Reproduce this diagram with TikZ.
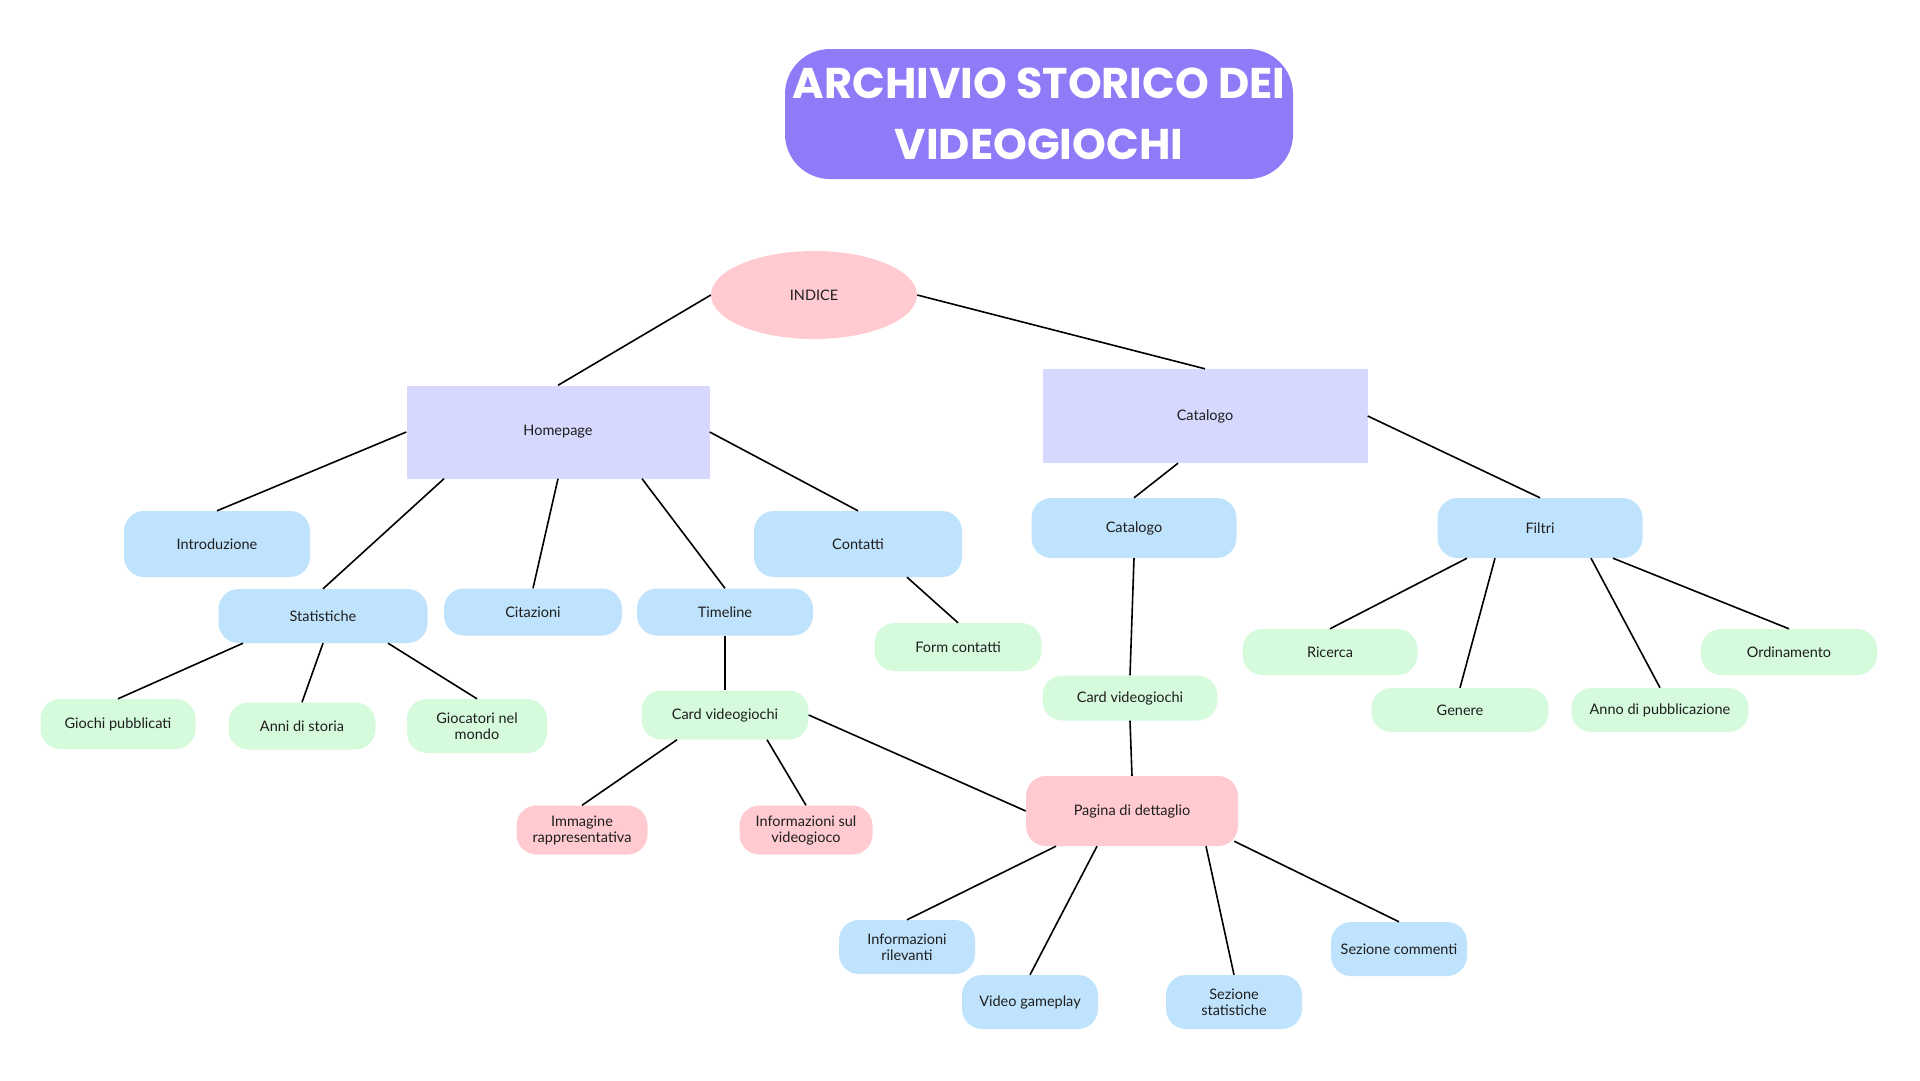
\documentclass[tikz,border=0pt]{standalone}
\usepackage{fontspec}
\setmainfont{Lato}
\newfontfamily\titlefont{Poppins}
\usetikzlibrary{positioning, shapes.geometric}

\definecolor{titlepurple}{HTML}{8E7BF8}
\definecolor{pinkbox}{HTML}{FFCBD1}
\definecolor{lavbox}{HTML}{D6D8FE}
\definecolor{bluebox}{HTML}{C0E3FD}
\definecolor{greenbox}{HTML}{D5FADC}
\definecolor{ink}{HTML}{1E1E1E}

\begin{document}
\begin{tikzpicture}[x=1pt, y=-1pt,
	every node/.style={font=\fontsize{14.5}{16}\selectfont, text=ink, align=center, inner sep=2pt},
	heading/.style={fill=titlepurple, rounded corners=45pt, text=white, minimum width=508, minimum height=130, font=\titlefont\bfseries\fontsize{43}{61}\selectfont},
	root/.style={ellipse, fill=pinkbox, minimum width=206, minimum height=88},
	page/.style={fill=lavbox},
	section/.style={fill=bluebox, rounded corners=20pt},
	item/.style={fill=greenbox, rounded corners=20pt},
	detail/.style={fill=pinkbox, rounded corners=20pt},
	link/.style={line width=1.6pt}
	]
	\fill[white] (0,0) rectangle (1920,1080);
	\useasboundingbox (0,0) rectangle (1920,1080);

	\node[heading] (titolo) at (1039,114) {ARCHIVIO STORICO DEI\\VIDEOGIOCHI};
	\node[root] (indice) at (814,295) {INDICE};

	\node[page, minimum width=303, minimum height=93] (home) at (558,432) {Homepage};
	\node[page, minimum width=325, minimum height=94] (catalogo) at (1205,416) {Catalogo};

	\node[section, minimum width=186, minimum height=66] (intro) at (217,544) {Introduzione};
	\node[section, minimum width=209, minimum height=54] (stat) at (323,616) {Statistiche};
	\node[section, minimum width=178, minimum height=47] (citaz) at (533,612) {Citazioni};
	\node[section, minimum width=176, minimum height=47] (timeline) at (725,612) {Timeline};
	\node[section, minimum width=208, minimum height=66] (contatti) at (858,544) {Contatti};
	\node[item, minimum width=167, minimum height=48] (form) at (958,647) {Form contatti};

	\node[item, minimum width=155, minimum height=50] (giochi) at (118,724) {Giochi pubblicati};
	\node[item, minimum width=147, minimum height=47] (anni) at (302,726) {Anni di storia};
	\node[item, minimum width=140, minimum height=54] (giocatori) at (477,726) {Giocatori nel\\mondo};

	\node[item, minimum width=167, minimum height=49] (card) at (725,715) {Card videogiochi};
	\node[detail, minimum width=131, minimum height=49] (immagine) at (582,830) {Immagine\\rappresentativa};
	\node[detail, minimum width=133, minimum height=49] (infogioco) at (806,830) {Informazioni sul\\videogioco};

	\node[section, minimum width=205, minimum height=60] (elenco) at (1134,528) {Catalogo};
	\node[item, minimum width=175, minimum height=45] (cardcat) at (1130,698) {Card videogiochi};
	\node[detail, minimum width=212, minimum height=70] (dettaglio) at (1132,811) {Pagina di dettaglio};

	\node[section, minimum width=205, minimum height=60] (filtri) at (1540,528) {Filtri};
	\node[item, minimum width=175, minimum height=46] (ricerca) at (1330,652) {Ricerca};
	\node[item, minimum width=177, minimum height=44] (genere) at (1460,710) {Genere};
	\node[item, minimum width=177, minimum height=44] (anno) at (1660,710) {Anno di pubblicazione};
	\node[item, minimum width=176, minimum height=46] (ordine) at (1789,652) {Ordinamento};

	\node[section, minimum width=136, minimum height=54] (inforil) at (907,947) {Informazioni\\rilevanti};
	\node[section, minimum width=136, minimum height=54] (video) at (1030,1002) {Video gameplay};
	\node[section, minimum width=136, minimum height=54] (sezstat) at (1234,1002) {Sezione\\statistiche};
	\node[section, minimum width=136, minimum height=54] (commenti) at (1399,949) {Sezione commenti};

	\draw [link]
		(indice.west) edge (home.north)
		(indice.east) edge (catalogo.north)
		(home.west) edge (intro.north)
		([xshift=-114pt]home.south) edge (stat.north)
		(home.south) edge (citaz.north)
		([xshift=84pt]home.south) edge (timeline.north)
		(home.east) edge (contatti.north)
		([xshift=49pt]contatti.south) edge (form.north)

		([xshift=-80pt]stat.south) edge (giochi.north)
		(stat.south) edge (anni.north)
		([xshift=65pt]stat.south) edge (giocatori.north)

		(timeline.south) edge (card.north)
		([xshift=-48pt]card.south) edge (immagine.north)
		([xshift=42pt]card.south) edge (infogioco.north)
		(card.east) edge (dettaglio.west)

		([xshift=-27pt]catalogo.south) edge (elenco.north)
		(catalogo.east) edge (filtri.north)
		(elenco.south) edge (cardcat.north)
		(cardcat.south) edge (dettaglio.north)

		([xshift=-73pt]filtri.south) edge (ricerca.north)
		([xshift=-45pt]filtri.south) edge (genere.north)
		([xshift=51pt]filtri.south) edge (anno.north)
		([xshift=73pt]filtri.south) edge (ordine.north)

		([xshift=-76pt]dettaglio.south) edge (inforil.north)
		([xshift=-35pt]dettaglio.south) edge (video.north)
		([xshift=74pt]dettaglio.south) edge (sezstat.north)
		([xshift=-4pt,yshift=5pt]dettaglio.south east) edge (commenti.north)
		;
\end{tikzpicture}
\end{document}
